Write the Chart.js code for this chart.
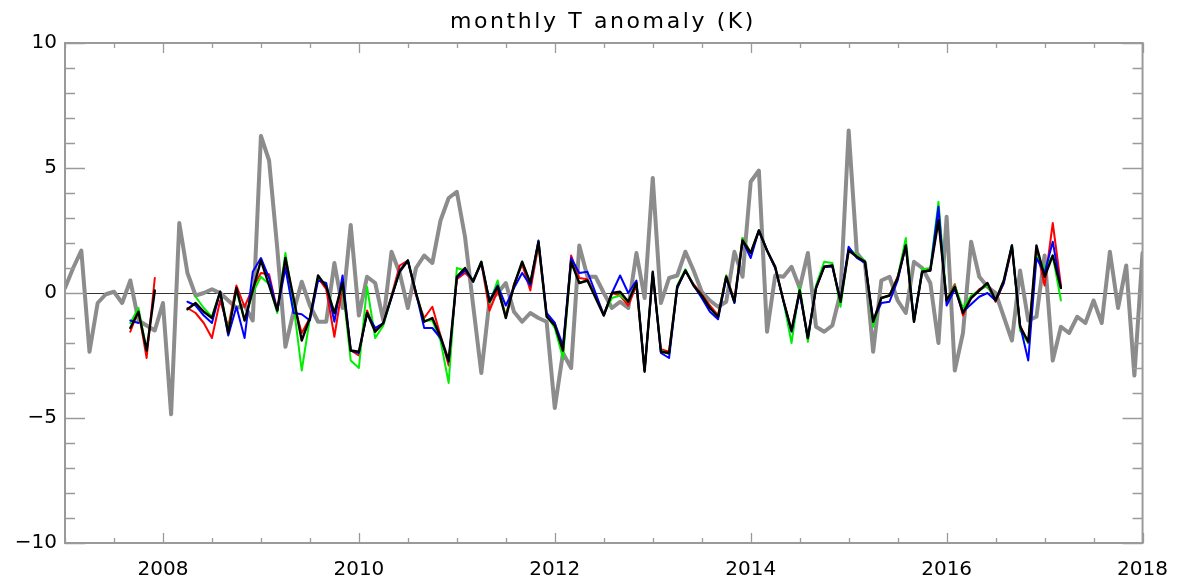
<!DOCTYPE html>
<html>
<head>
<meta charset="utf-8">
<script src="https://cdn.jsdelivr.net/npm/chart.js@4/dist/chart.umd.min.js"></script>
<style>
html,body{margin:0;padding:0;background:#fff;}
#wrap{width:1183px;height:580px;}
</style>
</head>
<body>
<div id="wrap"><canvas id="c" width="1183" height="580"></canvas></div>
<script>
const titleText = 'monthly T anomaly (K)';
const startYear = 2007;
const xMin = 2007, xMax = 2018;
const yMin = -10, yMax = 10;
const xTickValues = [2008, 2010, 2012, 2014, 2016, 2018];
const yTickValues = [-10, -5, 0, 5, 10];

// monthly values, index 0 = Jan 2007
const grayValues = [
 0.2, 1.0, 1.7, -2.35, -0.4, -0.05, 0.05, -0.4, 0.5, -1.1, -1.3, -1.5,
 -0.4, -4.85, 2.8, 0.8, -0.1, 0.0, 0.15, 0.0, -0.3, -0.6, -0.5, -1.1,
 6.28, 5.3, 1.8, -2.15, -0.75, 0.45, -0.5, -1.15, -1.15, 1.2, -0.6, 2.72,
 -0.9, 0.65, 0.4, -1.1, 1.65, 0.8, -0.6, 1.0, 1.5, 1.2, 2.9, 3.8,
 4.05, 2.25, -0.5, -3.2, -0.3, 0.0, 0.4, -0.75, -1.15, -0.8, -1.0, -1.15,
 -4.6, -2.4, -3.0, 1.9, 0.65, 0.65, 0.0, -0.6, -0.35, -0.6, 1.6, -0.2,
 4.6, -0.4, 0.6, 0.7, 1.65, 0.9, 0.05, -0.3, -0.55, -0.35, 1.65, 0.65,
 4.45, 4.9, -1.55, 0.7, 0.65, 1.05, 0.2, 1.6, -1.35, -1.55, -1.3, 0.0,
 6.5, 1.6, 1.2, -2.35, 0.5, 0.65, -0.3, -0.8, 1.25, 1.0, 0.4, -2.0,
 3.05, -3.1, -1.6, 2.05, 0.65, 0.25, 0.0, -0.95, -1.9, 0.9, -1.1, -0.95,
 1.5, -2.7, -1.35, -1.6, -0.95, -1.2, -0.3, -1.2, 1.65, -0.6, 1.1, -3.3,
 1.6
];

const redValues = [
 null, null, null, null, null, null, null, null, -1.55, -0.7, -2.6, 0.6,
 null, null, null, -0.6, -0.8, -1.2, -1.8, -0.3, -1.35, 0.3, -0.55, 0.2,
 0.8, 0.75, -0.7, 1.2, -0.4, -1.6, -1.0, 0.6, 0.15, -1.75, 0.3, -2.3,
 -2.5, -0.7, -1.5, -1.2, -0.1, 1.1, 1.3, -0.1, -1.0, -0.55, -1.7, -2.9,
 0.55, 0.8, 0.5, 1.2, -0.7, 0.1, -0.9, 0.35, 1.15, 0.1, 1.9, -0.85,
 -1.2, -2.4, 1.5, 0.6, 0.55, -0.1, -0.85, 0.0, -0.1, -0.5, 0.3, -3.1,
 0.7, -2.25, -2.35, 0.2, 0.9, 0.35, -0.05, -0.5, -0.9, 0.7, -0.3, 2.2,
 1.6, 2.5, 1.7, 1.0, -0.3, -1.5, 0.1, -1.8, 0.2, 1.05, 1.1, -0.35,
 1.75, 1.45, 1.25, -1.15, -0.2, -0.1, 0.65, 1.85, -1.15, 0.85, 0.95, 3.0,
 -0.3, 0.35, -0.9, -0.2, 0.15, 0.3, -0.35, 0.4, 1.8, -1.3, -2.0, 1.8,
 0.3, 2.8, 0.3
];

const greenValues = [
 null, null, null, null, null, null, null, null, -1.2, -0.6, -2.3, null,
 null, null, null, null, -0.15, -0.6, -0.95, 0.05, -1.5, 0.1, -1.1, 0.0,
 0.65, 0.35, -0.8, 1.6, -0.5, -3.1, -1.0, 0.6, 0.3, -0.8, 0.3, -2.7,
 -3.0, 0.25, -1.8, -1.3, -0.15, 0.9, 1.3, 0.0, -1.1, -1.1, -1.9, -3.6,
 1.0, 0.9, 0.5, 1.25, -0.4, 0.5, -1.0, 0.3, 1.25, 0.4, 2.0, -0.9,
 -1.4, -2.6, 1.3, 0.4, 0.5, -0.15, -0.85, -0.2, -0.1, -0.35, 0.4, -3.1,
 0.8, -2.3, -2.45, 0.3, 0.95, 0.3, -0.1, -0.6, -0.95, 0.7, -0.4, 2.2,
 1.6, 2.5, 1.7, 1.05, -0.3, -2.0, 0.25, -1.95, 0.3, 1.25, 1.2, -0.55,
 1.8, 1.5, 1.3, -1.35, -0.2, -0.1, 0.6, 2.2, -1.15, 0.95, 1.0, 3.65,
 -0.3, 0.3, -0.6, -0.1, 0.1, 0.3, -0.3, 0.5, 1.9, -1.5, -2.0, 1.5,
 1.0, 1.5, -0.3
];

const blueValues = [
 null, null, null, null, null, null, null, null, -1.1, -1.2, null, null,
 null, null, null, -0.35, -0.5, -0.9, -1.2, 0.05, -1.7, -0.55, -1.8, 0.85,
 1.4, 0.6, -0.7, 1.0, -0.8, -0.85, -1.1, 0.5, 0.4, -1.15, 0.7, -2.3,
 -2.4, -0.8, -1.4, -1.2, -0.2, 0.9, 1.3, 0.0, -1.4, -1.4, -1.8, -2.75,
 0.6, 0.9, 0.5, 1.2, -0.3, 0.3, -0.5, 0.2, 0.8, 0.3, 2.1, -0.8,
 -1.2, -2.1, 1.4, 0.8, 0.85, 0.0, -0.9, 0.0, 0.7, 0.0, 0.5, -3.1,
 0.8, -2.4, -2.6, 0.2, 0.9, 0.3, -0.2, -0.75, -1.05, 0.6, -0.4, 2.1,
 1.4, 2.5, 1.7, 1.0, -0.3, -1.55, 0.0, -1.8, 0.2, 1.05, 1.05, -0.3,
 1.85, 1.4, 1.2, -1.1, -0.4, -0.35, 0.5, 1.9, -1.1, 0.85, 0.9, 3.45,
 -0.5, 0.15, -0.75, -0.45, -0.15, 0.0, -0.3, 0.4, 1.9, -1.3, -2.7, 1.4,
 0.8, 2.05, 0.2
];

const blackValues = [
 null, null, null, null, null, null, null, null, -1.4, -0.75, -2.3, 0.1,
 null, null, null, -0.65, -0.4, -0.75, -1.0, 0.05, -1.6, 0.2, -1.1, 0.1,
 1.3, 0.3, -0.7, 1.4, -0.2, -1.9, -1.0, 0.7, 0.25, -0.8, 0.4, -2.3,
 -2.35, -0.8, -1.55, -1.2, -0.15, 0.85, 1.3, 0.0, -1.15, -1.0, -1.75, -2.7,
 0.65, 1.0, 0.45, 1.25, -0.35, 0.25, -1.0, 0.3, 1.25, 0.4, 2.05, -0.95,
 -1.3, -2.3, 1.25, 0.4, 0.5, -0.2, -0.9, 0.0, 0.05, -0.35, 0.4, -3.15,
 0.85, -2.35, -2.4, 0.25, 0.9, 0.3, -0.1, -0.6, -0.95, 0.65, -0.35, 2.1,
 1.6, 2.5, 1.7, 1.05, -0.3, -1.5, 0.1, -1.8, 0.2, 1.05, 1.1, -0.35,
 1.7, 1.45, 1.25, -1.15, -0.2, -0.1, 0.6, 1.9, -1.15, 0.85, 0.9, 2.9,
 -0.3, 0.25, -0.8, -0.2, 0.1, 0.4, -0.3, 0.5, 1.9, -1.35, -1.95, 1.9,
 0.65, 1.5, 0.2
];

function toPoints(arr) {
  return arr.map((v, i) => ({ x: startYear + i / 12, y: v }));
}

const FONT = "'DejaVu Sans', 'Liberation Sans', sans-serif";

const framePlugin = {
  id: 'frame',
  beforeDatasetsDraw(chart) {
    const ctx = chart.ctx, a = chart.chartArea, ys = chart.scales.y;
    const y0 = ys.getPixelForValue(0);
    ctx.save();
    ctx.strokeStyle = '#333';
    ctx.lineWidth = 1;
    ctx.beginPath();
    ctx.moveTo(a.left, Math.round(y0) + 0.5);
    ctx.lineTo(a.right, Math.round(y0) + 0.5);
    ctx.stroke();
    ctx.restore();
  },
  afterDatasetsDraw(chart) {
    const ctx = chart.ctx, a = chart.chartArea;
    const xs = chart.scales.x, ys = chart.scales.y;
    ctx.save();
    ctx.strokeStyle = '#9a9a9a';
    ctx.lineWidth = 2;
    ctx.strokeRect(a.left, a.top, a.right - a.left, a.bottom - a.top);
    ctx.lineWidth = 1.3;
    ctx.beginPath();
    for (let t = xMin; t <= xMax + 1e-9; t += 0.5) {
      const px = Math.round(xs.getPixelForValue(t)) + 0.5;
      const len = xTickValues.includes(t) ? 10 : 5;
      ctx.moveTo(px, a.bottom); ctx.lineTo(px, a.bottom - len);
      ctx.moveTo(px, a.top); ctx.lineTo(px, a.top + len);
    }
    for (let v = yMin; v <= yMax; v += 1) {
      const py = Math.round(ys.getPixelForValue(v)) + 0.5;
      const len = yTickValues.includes(v) ? 20 : 10;
      ctx.moveTo(a.left, py); ctx.lineTo(a.left + len, py);
      ctx.moveTo(a.right, py); ctx.lineTo(a.right - len, py);
    }
    ctx.stroke();
    ctx.restore();
  },
  afterDraw(chart) {
    const ctx = chart.ctx;
    ctx.save();
    ctx.fillStyle = '#000';
    ctx.font = "22px " + FONT;
    try { ctx.letterSpacing = '2.6px'; } catch (e) {}
    ctx.textAlign = 'center';
    ctx.textBaseline = 'alphabetic';
    ctx.fillText(titleText, 603, 28);
    ctx.restore();
  }
};

function mk(label, arr, color, width, order) {
  return {
    label, data: toPoints(arr), borderColor: color, backgroundColor: color,
    borderWidth: width, pointRadius: 0, tension: 0, spanGaps: false,
    borderJoinStyle: 'round', borderCapStyle: 'round', order
  };
}

new Chart(document.getElementById('c'), {
  type: 'line',
  data: {
    datasets: [
      mk('gray', grayValues, '#8c8c8c', 4, 5),
      mk('red', redValues, '#ff0000', 2, 4),
      mk('green', greenValues, '#00ee00', 2, 3),
      mk('blue', blueValues, '#0000ff', 2, 2),
      mk('black', blackValues, '#000000', 2.4, 1)
    ]
  },
  options: {
    responsive: false,
    animation: false,
    events: [],
    layout: { padding: { top: 43, right: 28, left: 0, bottom: 0 } },
    plugins: { legend: { display: false }, title: { display: false }, tooltip: { enabled: false } },
    scales: {
      x: {
        type: 'linear', min: xMin, max: xMax,
        grid: { display: false, drawTicks: false },
        border: { display: false },
        afterBuildTicks: s => { s.ticks = xTickValues.map(v => ({ value: v })); },
        afterFit: s => { s.height = 37; },
        ticks: {
          color: '#000', font: { family: FONT, size: 20 }, padding: 15,
          autoSkip: false, maxRotation: 0,
          callback: v => String(v)
        }
      },
      y: {
        type: 'linear', min: yMin, max: yMax,
        grid: { display: false, drawTicks: false },
        border: { display: false },
        afterBuildTicks: s => { s.ticks = yTickValues.map(v => ({ value: v })); },
        afterFit: s => { s.width = 65; },
        ticks: {
          color: '#000', font: { family: FONT, size: 20 }, padding: 8,
          autoSkip: false,
          callback: v => String(v).replace('-', '\u2212')
        }
      }
    }
  },
  plugins: [framePlugin]
});
</script>
</body>
</html>
